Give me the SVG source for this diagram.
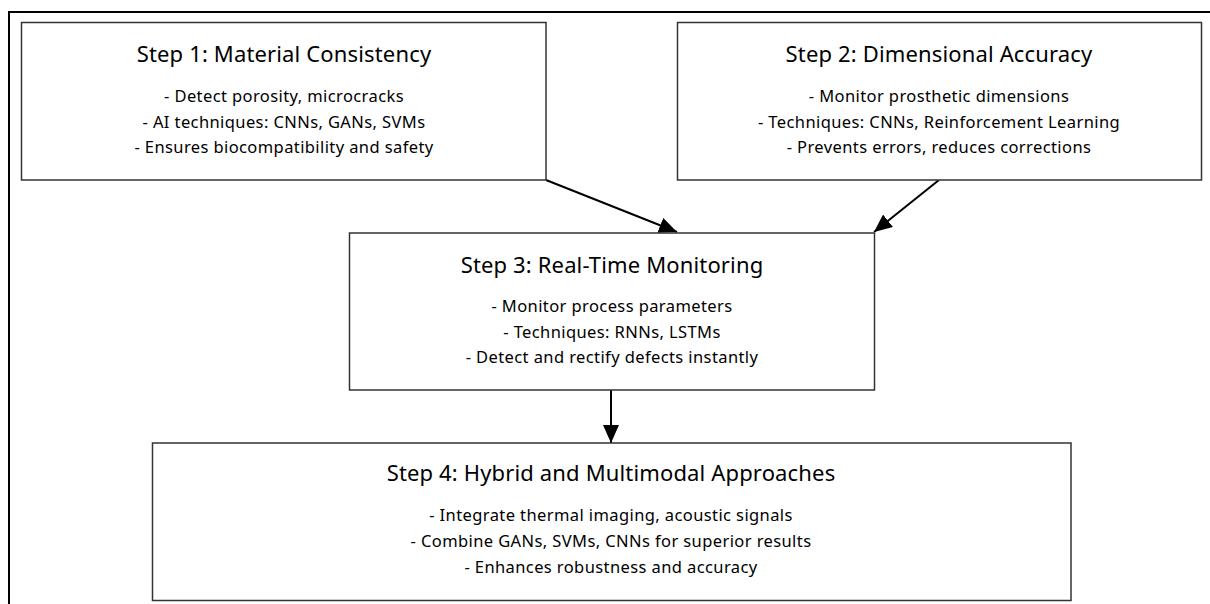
<svg xmlns="http://www.w3.org/2000/svg" width="1210" height="604" viewBox="0 0 1210 604">
  <style>
    .frame { fill: none; stroke: #000; stroke-width: 2; }
    .box { fill: #fff; stroke: #333; stroke-width: 1.5; }
    .title { font-family: "Noto Sans", "Liberation Sans", sans-serif; font-size: 22px; letter-spacing: 0.15px; fill: #000; text-anchor: middle; }
    .item { font-family: "Noto Sans", "Liberation Sans", sans-serif; font-size: 16.5px; letter-spacing: 0.4px; fill: #000; text-anchor: middle; }
    .edge { fill: none; stroke: #000; stroke-width: 2; }
  </style>
  <defs>
    <marker id="head" markerUnits="userSpaceOnUse" markerWidth="20" markerHeight="16" refX="18" refY="8" orient="auto">
      <polygon points="0,0 18,8 0,16" fill="#000"/>
    </marker>
  </defs>
  <rect width="1210" height="604" fill="#fff"/>
  <!-- outer frame, running past the right and bottom edges -->
  <rect class="frame" x="9" y="12" width="1215" height="610"/>

  <g id="edges">
    <line class="edge" x1="546" y1="180" x2="677" y2="232" marker-end="url(#head)"/>
    <line class="edge" x1="939" y1="180" x2="874" y2="232" marker-end="url(#head)"/>
    <line class="edge" x1="611" y1="390" x2="611" y2="443" marker-end="url(#head)"/>
  </g>

  <g id="step1">
    <rect class="box" x="21.5" y="22.5" width="524.5" height="157.5"/>
    <text class="title" x="284" y="62">Step 1: Material Consistency</text>
    <text class="item" x="284" y="102">- Detect porosity, microcracks</text>
    <text class="item" x="284" y="128">- AI techniques: CNNs, GANs, SVMs</text>
    <text class="item" x="284" y="153">- Ensures biocompatibility and safety</text>
  </g>

  <g id="step2">
    <rect class="box" x="677.5" y="22.5" width="524" height="157.5"/>
    <text class="title" x="939" y="62">Step 2: Dimensional Accuracy</text>
    <text class="item" x="939" y="102">- Monitor prosthetic dimensions</text>
    <text class="item" x="939" y="128">- Techniques: CNNs, Reinforcement Learning</text>
    <text class="item" x="939" y="153">- Prevents errors, reduces corrections</text>
  </g>

  <g id="step3">
    <rect class="box" x="349.5" y="233" width="525" height="157"/>
    <text class="title" x="612" y="273">Step 3: Real-Time Monitoring</text>
    <text class="item" x="612" y="312">- Monitor process parameters</text>
    <text class="item" x="612" y="338">- Techniques: RNNs, LSTMs</text>
    <text class="item" x="612" y="363">- Detect and rectify defects instantly</text>
  </g>

  <g id="step4">
    <rect class="box" x="152.5" y="443" width="918.5" height="157.5"/>
    <text class="title" x="611" y="481">Step 4: Hybrid and Multimodal Approaches</text>
    <text class="item" x="611" y="521">- Integrate thermal imaging, acoustic signals</text>
    <text class="item" x="611" y="547">- Combine GANs, SVMs, CNNs for superior results</text>
    <text class="item" x="611" y="573">- Enhances robustness and accuracy</text>
  </g>
</svg>
